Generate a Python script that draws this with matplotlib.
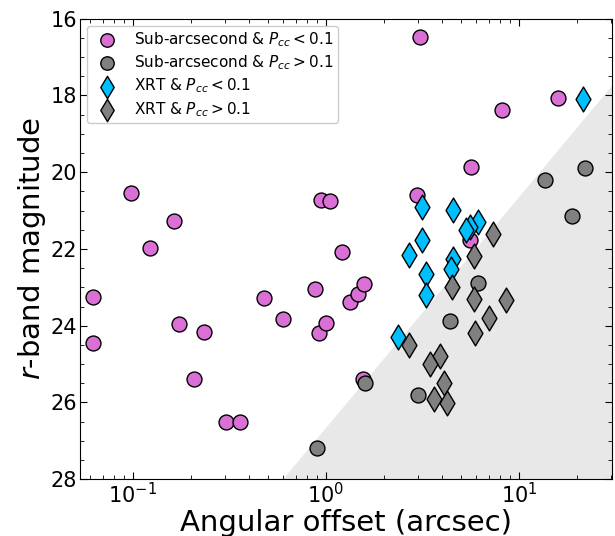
import numpy as np
import matplotlib
matplotlib.use("Agg")
import matplotlib.pyplot as plt
from matplotlib.ticker import MultipleLocator

# Sub-arcsecond, Pcc < 0.1
sub_lo_x = [0.0618, 0.0618, 0.098, 0.123, 0.164, 0.174, 0.206, 0.234, 0.304, 0.359,
            0.479, 0.600, 0.877, 0.920, 0.942, 1.05, 1.0, 1.21, 1.33, 1.46,
            1.57, 1.55, 3.06, 2.95, 5.62, 5.55, 8.13, 15.8]
sub_lo_y = [23.26, 24.46, 20.54, 21.98, 21.27, 23.96, 25.40, 24.17, 26.50, 26.50,
            23.28, 23.83, 23.05, 24.20, 20.73, 20.75, 23.94, 22.08, 23.39, 23.18,
            22.92, 25.40, 16.47, 20.60, 19.86, 21.77, 18.38, 18.06]
# Sub-arcsecond, Pcc > 0.1
sub_hi_x = [0.902, 1.60, 2.99, 4.36, 6.1, 13.66, 21.9, 18.75]
sub_hi_y = [27.20, 25.50, 25.81, 23.89, 22.89, 20.20, 19.88, 21.14]
# XRT, Pcc < 0.1
xrt_lo_x = [21.3, 3.13, 4.52, 6.1, 5.57, 5.31, 3.13, 2.68, 4.55, 4.44, 3.30, 3.30, 2.36]
xrt_lo_y = [18.10, 20.90, 20.99, 21.29, 21.42, 21.51, 21.77, 22.15, 22.25, 22.51, 22.64, 23.19, 24.30]
# XRT, Pcc > 0.1
xrt_hi_x = [7.30, 5.80, 4.50, 5.80, 8.55, 6.96, 5.91, 2.68, 3.91, 3.45, 4.07, 3.60, 4.22]
xrt_hi_y = [21.62, 22.19, 22.99, 23.31, 23.33, 23.80, 24.19, 24.51, 24.80, 25.01, 25.50, 25.90, 26.01]

# shaded-region boundary
shade_x0, shade_m0, shade_slope = 0.60, 28.0, -6.02

fig = plt.figure(figsize=(6.15, 5.36), dpi=100)
ax = fig.add_axes([0.130, 0.106, 0.865, 0.859])

xs = np.logspace(np.log10(0.05), np.log10(35), 200)
line = shade_m0 + shade_slope * (np.log10(xs) - np.log10(shade_x0))
ax.fill_between(xs, line, 30, color='#e8e8e8', zorder=0, lw=0)

ax.scatter(sub_lo_x, sub_lo_y, s=115, marker='o', c='#DA70D6', edgecolors='k', linewidths=1,
           label=r'Sub-arcsecond & $P_{cc} < 0.1$', zorder=3)
ax.scatter(sub_hi_x, sub_hi_y, s=115, marker='o', c='#808080', edgecolors='k', linewidths=1,
           label=r'Sub-arcsecond & $P_{cc} > 0.1$', zorder=3)
ax.scatter(xrt_lo_x, xrt_lo_y, s=160, marker='d', c='#00BFFF', edgecolors='k', linewidths=1,
           label=r'XRT & $P_{cc} < 0.1$', zorder=3)
ax.scatter(xrt_hi_x, xrt_hi_y, s=160, marker='d', c='#808080', edgecolors='k', linewidths=1,
           label=r'XRT & $P_{cc} > 0.1$', zorder=3)

ax.set_xscale('log')
ax.set_xlim(0.0532, 30.2)
ax.set_ylim(28, 16)
ax.yaxis.set_major_locator(MultipleLocator(2))
ax.yaxis.set_minor_locator(MultipleLocator(0.5))
ax.tick_params(which='both', direction='in', top=True, right=True)
ax.tick_params(which='major', length=5, labelsize=15, pad=2)
ax.tick_params(which='minor', length=3)

ax.set_xlabel('Angular offset (arcsec)', fontsize=21, labelpad=1)
ax.set_ylabel(r'$r$-band magnitude', fontsize=21, labelpad=2)

ax.legend(loc='upper left', fontsize=11, framealpha=1, borderaxespad=0.45,
          labelspacing=0.3, handletextpad=0.8, borderpad=0.3, markerscale=0.9)

fig.savefig('out.png', dpi=100)
